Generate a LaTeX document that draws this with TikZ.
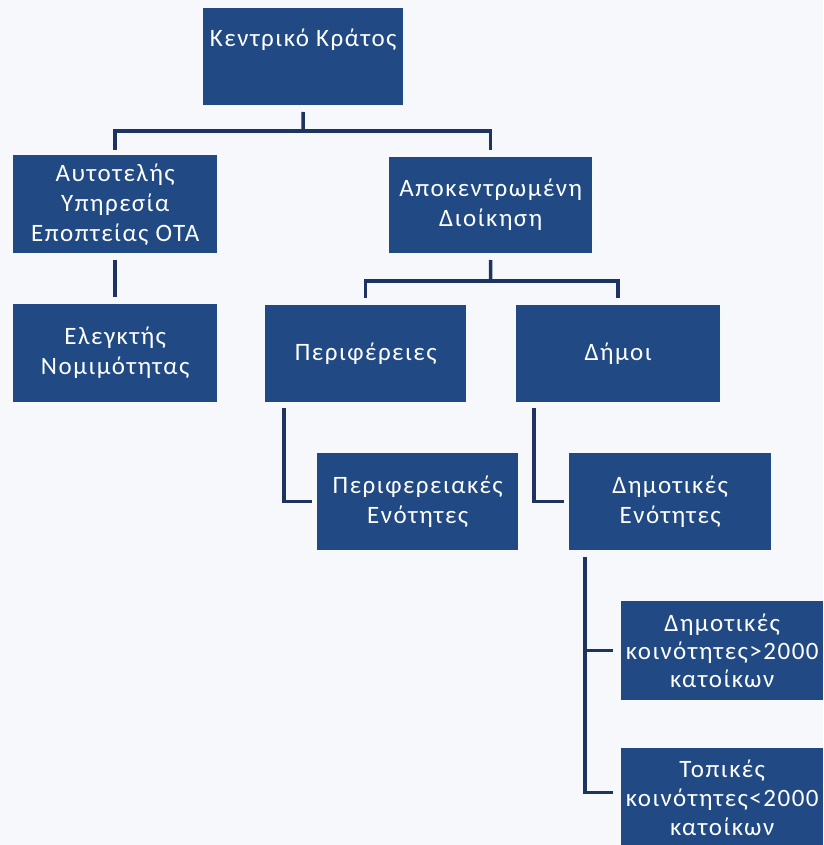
\documentclass[tikz,border=0pt]{standalone}
\usepackage{fontspec}
\setmainfont[LetterSpace=6]{Carlito}
\definecolor{boxblue}{RGB}{33,74,132}
\definecolor{linenavy}{RGB}{30,52,96}
\definecolor{paper}{RGB}{246,248,252}
\begin{document}
\begin{tikzpicture}[x=1pt,y=-1pt,
  box/.style={draw=none,fill=boxblue,text=white,inner sep=0pt,anchor=north west,
    minimum width=#1,minimum height=98pt,align=center,font=\fontsize{25}{30}\selectfont},
  box/.default=202pt,
  conn/.style={draw=linenavy,line width=3.5pt}]
\useasboundingbox (0,0) rectangle (823,845);
\clip (0,0) rectangle (823,845);
\fill[paper] (0,0) rectangle (823,845);

\node[box=200pt,minimum height=97pt,text height=38pt,text depth=59pt] (k) at (203,8) {Κεντρικό Κράτος};
\node[box=204pt] (a) at (13,155) {Αυτοτελής\\Υπηρεσία\\Εποπτείας ΟΤΑ};
\node[box=204pt] (e) at (13,304) {Ελεγκτής\\Νομιμότητας};
\node[box=203pt,minimum height=96pt] (b) at (389,157) {Αποκεντρωμένη\\Διοίκηση};
\node[box=201pt,minimum height=97pt] (p) at (265,305) {Περιφέρειες};
\node[box=204pt,minimum height=97pt] (d) at (516,305) {Δήμοι};
\node[box=201pt,minimum height=97pt] (pe) at (317,453) {Περιφερειακές\\Ενότητες};
\node[box=202pt,minimum height=97pt] (de) at (569,453) {Δημοτικές\\Ενότητες};
\node[box=202pt,minimum height=99pt,font=\fontsize{25}{28}\selectfont] (c1) at (621,601) {Δημοτικές\\κοινότητες>2000\\κατοίκων};
\node[box=202pt,minimum height=99pt,font=\fontsize{25}{29}\selectfont] (c2) at (621,748) {Τοπικές\\κοινότητες<2000\\κατοίκων};

% connectors
\coordinate (kj) at (303,131);
\draw[conn] (k.south |- 0,112) -- (kj);
\draw[conn] (117,150 -| a.north) |- (kj) -| (b.north |- 0,150);
\draw[conn] (a.south |- 0,260) -- (e.north |- 0,297);
\coordinate (bj) at (490.5,281);
\draw[conn] (b.south |- 0,260) -- (bj);
\draw[conn] (p.north |- 0,298) |- (bj) -| (d.north |- 0,298);
\draw[conn] ([xshift=19pt,yshift=-6pt]p.south west) |- ([xshift=-5pt]pe.west);
\draw[conn] ([xshift=18pt,yshift=-6pt]d.south west) |- ([xshift=-5pt]de.west);
\draw[conn] ([xshift=16pt,yshift=-7pt]de.south west) |- ([xshift=-8pt,yshift=5pt]c2.west);
\draw[conn] ([xshift=16pt]de.south west |- c1.west) -- ([xshift=-8pt]c1.west);
\end{tikzpicture}
\end{document}
